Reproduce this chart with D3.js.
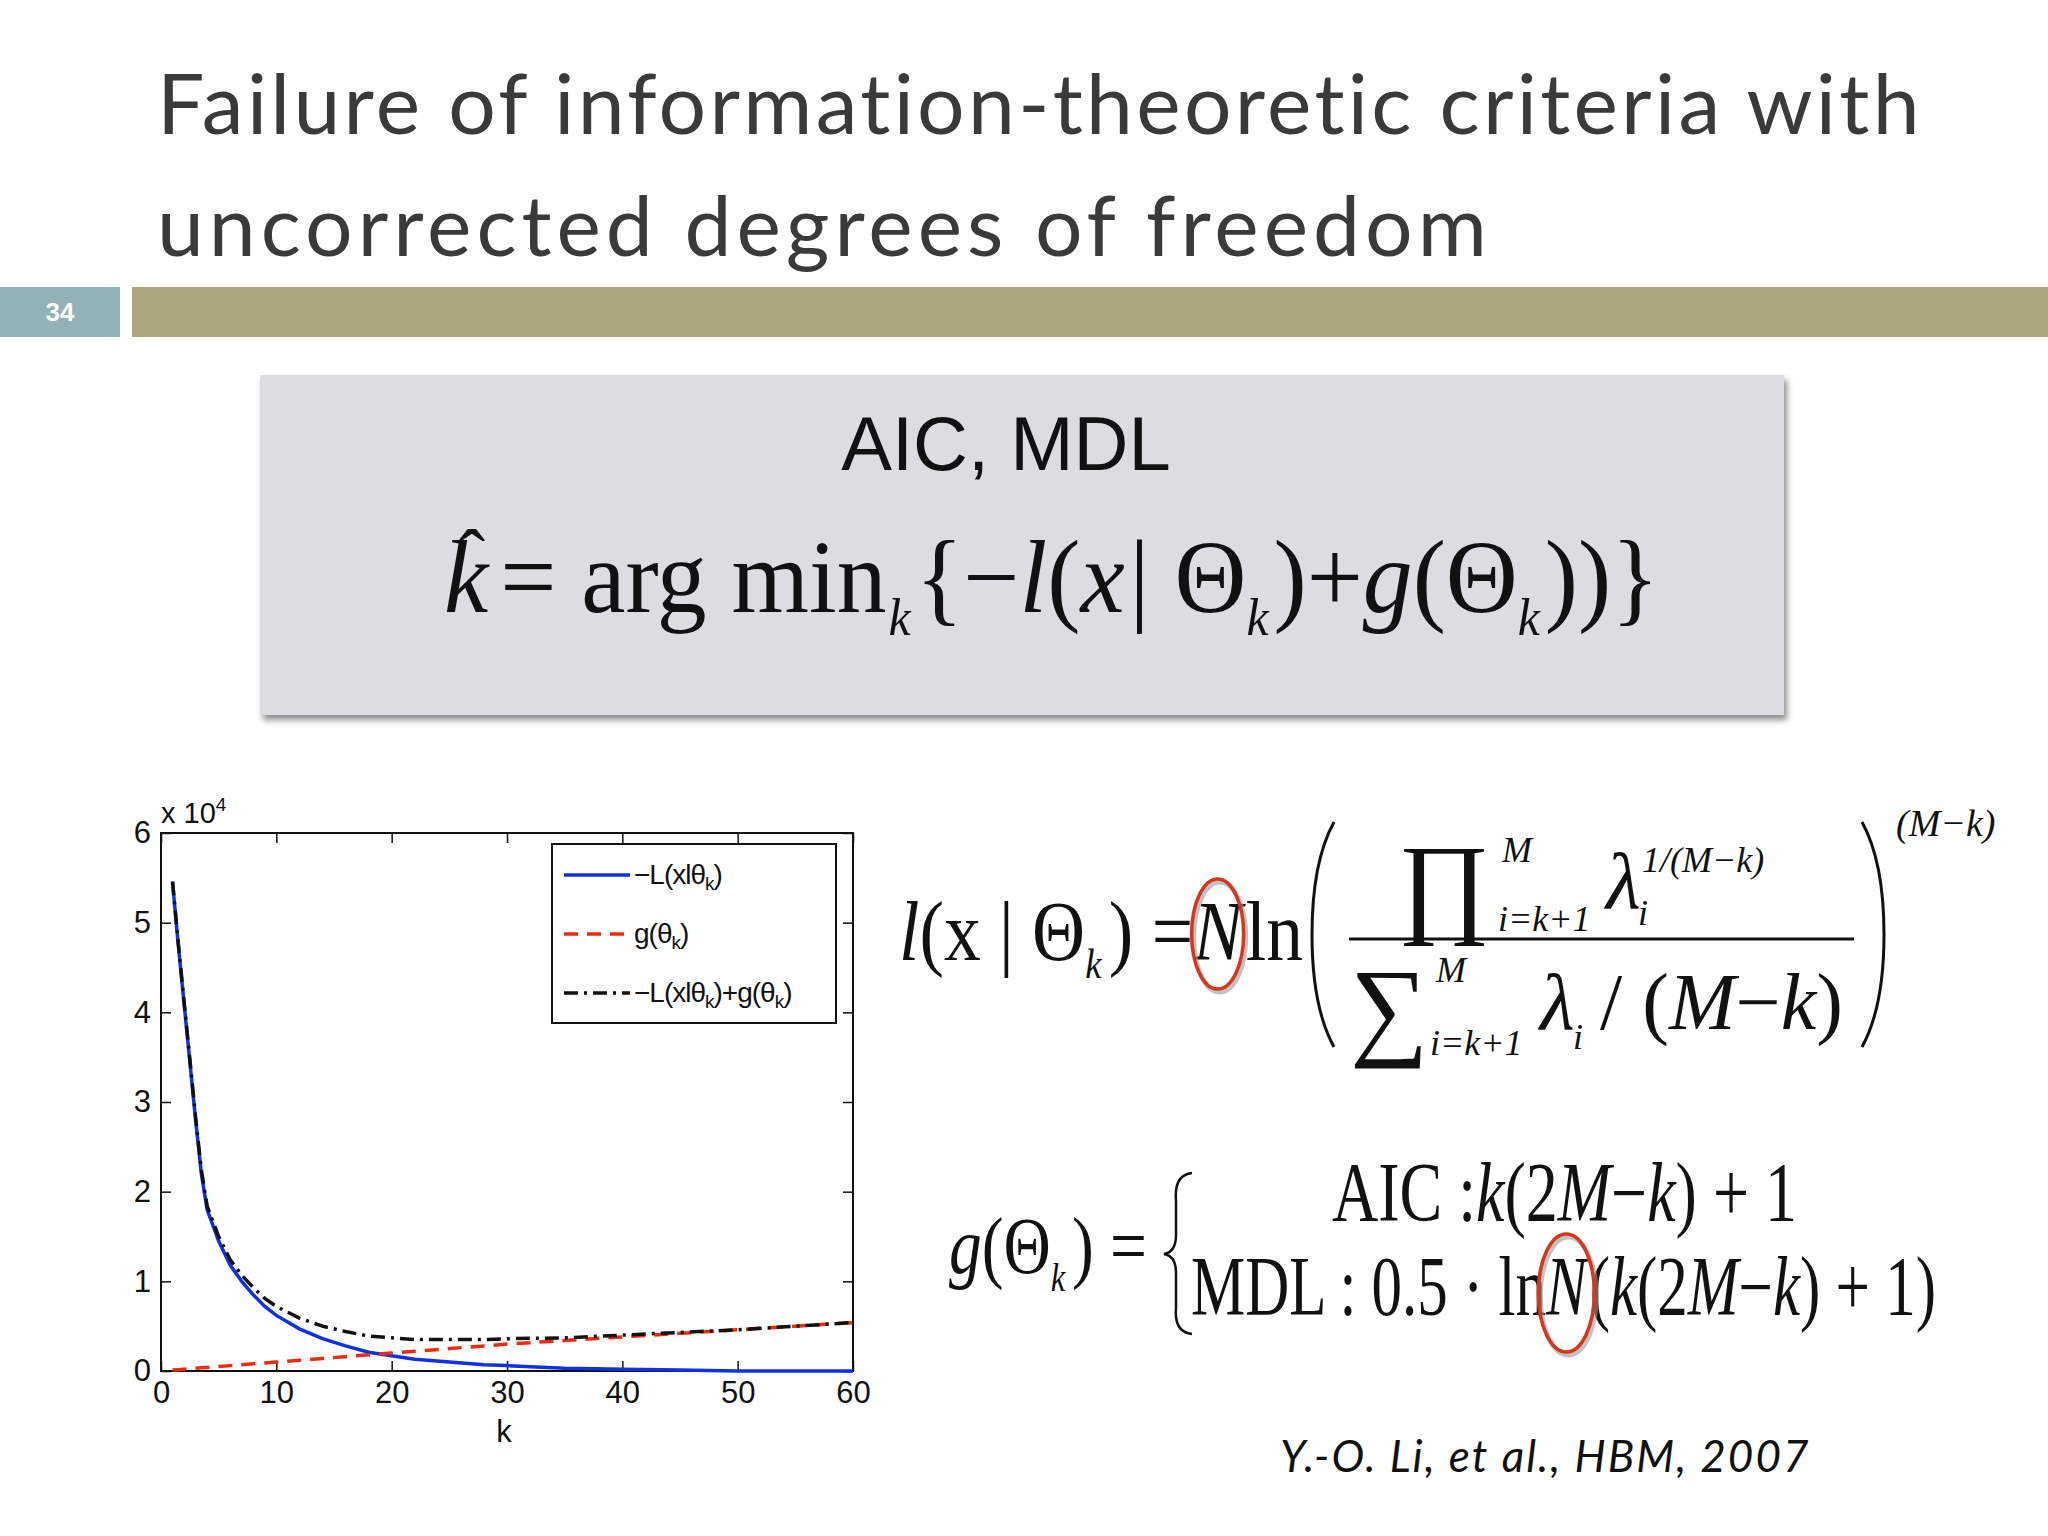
<!DOCTYPE html>
<html><head><meta charset="utf-8">
<script src="https://cdn.jsdelivr.net/npm/d3@7"></script>
<style>body{margin:0;background:#fff}</style>
</head><body>
<script>
var ks    = [1,1.5,2,2.5,3,3.5,4,5,6,7,8,9,10,12,14,16,18,20,22,25,28,30,35,40,45,50,55,60];
var negL  = [5.45,4.75,4.1,3.45,2.8,2.2,1.8,1.45,1.18,1.0,0.85,0.72,0.62,0.47,0.36,0.28,0.21,0.17,0.13,0.1,0.07,0.06,0.03,0.02,0.01,0,0,0];
var gVals = [0.01,0.015,0.02,0.025,0.03,0.035,0.04,0.05,0.06,0.07,0.08,0.09,0.1,0.12,0.14,0.16,0.18,0.2,0.22,0.25,0.28,0.3,0.34,0.38,0.42,0.46,0.5,0.54];
var total = [5.46,4.77,4.12,3.48,2.83,2.24,1.84,1.5,1.24,1.07,0.93,0.81,0.72,0.59,0.5,0.44,0.39,0.37,0.35,0.35,0.35,0.36,0.37,0.4,0.43,0.46,0.5,0.54];
var xTicks = [0,10,20,30,40,50,60];
var yTicks = [0,1,2,3,4,5,6];

var svg = d3.select("body").append("svg").attr("width",2048).attr("height",1536);
var defs = svg.append("defs");
var f = defs.append("filter").attr("id","sh").attr("x","-5%").attr("y","-5%").attr("width","112%").attr("height","115%");
f.append("feDropShadow").attr("dx",3).attr("dy",5).attr("stdDeviation",3).attr("flood-color","#000").attr("flood-opacity",0.45);

// title
var TF = "Lato, 'Noto Sans', sans-serif";
svg.append("text").attr("x",157).attr("y",134).attr("font-family",TF).attr("font-size",84)
  .attr("letter-spacing",3.3).attr("fill","#3a3a3a").text("Failure of information-theoretic criteria with");
svg.append("text").attr("x",157).attr("y",256).attr("font-family",TF).attr("font-size",84)
  .attr("letter-spacing",5).attr("fill","#3a3a3a").text("uncorrected degrees of freedom");
svg.append("rect").attr("x",0).attr("y",287).attr("width",120).attr("height",50).attr("fill","#92b2b6");
svg.append("text").attr("x",60).attr("y",321).attr("text-anchor","middle").attr("font-family","'Liberation Sans',Arial")
  .attr("font-weight","bold").attr("font-size",26).attr("fill","#fff").text("34");
svg.append("rect").attr("x",132).attr("y",287).attr("width",1916).attr("height",50).attr("fill","#aba57d");

// box
svg.append("rect").attr("x",260).attr("y",375).attr("width",1524).attr("height",340).attr("fill","#dddce1").attr("filter","url(#sh)");
svg.append("text").attr("x",1006).attr("y",470).attr("text-anchor","middle").attr("font-family","'Liberation Sans',Arial")
  .attr("font-size",76).attr("fill","#111").text("AIC, MDL");

var SF = "'Liberation Serif','Times New Roman',serif";
// lay out a run of segments; returns bbox info keyed by seg.id
function run(x, y, fs, segs, target) {
  var g = svg.append("g"), cx = 0, marks = {};
  segs.forEach(function(s) {
    var sz = fs * (s.sc || 1), dy = (s.dy || 0) * fs;
    var t = g.append("text").attr("x",cx).attr("y",dy).attr("font-family",SF).attr("font-size",sz)
      .attr("font-style", s.i ? "italic" : "normal").attr("fill","#111").text(s.t);
    var w = t.node().getComputedTextLength();
    if (s.id) marks[s.id] = {x:cx, w:w, dy:dy, sz:sz};
    cx += w + (s.gap || 0) * fs;
  });
  var k = target ? target / cx : 1;
  g.attr("transform","translate("+x+","+y+") scale("+k+",1)");
  return {k:k, marks:marks, w:cx*k};
}
var sub = {sc:0.5, dy:0.22, i:true};
function S(o){ return Object.assign({}, sub, o); }

// main formula
var m = run(444, 612, 104, [
  {t:"k", i:true, id:"khat", gap:0.12}, {t:"= arg min", gap:0.02}, S({t:"k", gap:0.05}),
  {t:"{−"}, {t:"l", i:true}, {t:"("}, {t:"x", i:true, gap:0.05}, {t:"| Θ"}, S({t:"k", gap:0.05}),
  {t:")+"}, {t:"g", i:true}, {t:"(Θ"}, S({t:"k", gap:0.05}), {t:"))}"}
], 1215);
var kh = m.marks.khat;
svg.append("text").attr("x",444 + (kh.x + kh.w/2 + 6)*m.k).attr("y",585).attr("text-anchor","middle")
  .attr("font-family",SF).attr("font-size",80).attr("fill","#111").text("ˆ");

// formula l(x|Θ)
var f1 = run(899, 960, 84, [
  {t:"l", i:true}, {t:"(x | Θ"}, S({t:"k", gap:0.1}), {t:") = "}, {t:"N", i:true, id:"N", gap:0.05}, {t:"ln"}
], 404);
var nm = f1.marks.N;
function ring(cx, cy, rx, ry) {
  svg.append("ellipse").attr("cx",cx+2).attr("cy",cy+3).attr("rx",rx).attr("ry",ry).attr("fill","none")
    .attr("stroke","#999").attr("stroke-width",5).attr("opacity",0.6);
  svg.append("ellipse").attr("cx",cx).attr("cy",cy).attr("rx",rx).attr("ry",ry).attr("fill","none")
    .attr("stroke","#d8361c").attr("stroke-width",3.5);
}
ring(899 + (nm.x + nm.w/2)*f1.k, 934, 26, 55);
function paren(x0, y0, y1, dir) {
  var b = x0 + dir*22;
  svg.append("path").attr("d","M"+b+","+y0+" Q"+x0+","+(y0+40)+" "+x0+","+((y0+y1)/2)+" Q"+x0+","+(y1-40)+" "+b+","+y1)
    .attr("fill","none").attr("stroke","#111").attr("stroke-width",3);
}
paren(1312, 822, 1047, 1);
paren(1884, 822, 1047, -1);
svg.append("line").attr("x1",1349).attr("x2",1854).attr("y1",939).attr("y2",939).attr("stroke","#111").attr("stroke-width",3);
function txt(x, y, s, fs, it, anchor) {
  svg.append("text").attr("x",x).attr("y",y).attr("font-family",SF).attr("font-size",fs)
    .attr("font-style", it ? "italic" : "normal").attr("text-anchor", anchor || "start").attr("fill","#111").text(s);
}
txt(1398, 922, "∏", 112);
txt(1502, 862, "M", 36, true);
txt(1498, 931, "i=k+1", 36, true);
txt(1606, 908, "λ", 80, true);
txt(1642, 872, "1/(M−k)", 36, true);
txt(1638, 925, "i", 36, true);
txt(1350, 1045, "∑", 110);
txt(1436, 982, "M", 36, true);
txt(1430, 1055, "i=k+1", 36, true);
txt(1540, 1029, "λ", 80, true);
txt(1573, 1049, "i", 36, true);
run(1600, 1029, 80, [{t:"/ ("}, {t:"M", i:true}, {t:" − "}, {t:"k", i:true}, {t:")"}]);
txt(1896, 836, "(M−k)", 38, true);

// formula g(Θ)
run(949, 1273, 80, [{t:"g", i:true}, {t:"(Θ"}, S({t:"k", gap:0.1}), {t:") ="}], 198);
svg.append("path").attr("d","M1192,1173 Q1174,1175 1176,1200 L1176,1235 Q1176,1252 1164,1254 Q1176,1256 1176,1273 L1176,1308 Q1174,1332 1192,1334")
  .attr("fill","none").attr("stroke","#111").attr("stroke-width",2.5);
run(1332, 1221, 84, [{t:"AIC : "}, {t:"k", i:true}, {t:"(2"}, {t:"M", i:true}, {t:" − "}, {t:"k", i:true}, {t:") + 1"}], 465);
var f3 = run(1191, 1315, 84, [{t:"MDL : 0.5 · ln "}, {t:"N", i:true, id:"N", gap:0.05}, {t:"("}, {t:"k", i:true}, {t:"(2"},
  {t:"M", i:true}, {t:" − "}, {t:"k", i:true}, {t:") + 1)"}], 745);
var n3 = f3.marks.N;
ring(1191 + (n3.x + n3.w/2)*f3.k, 1293, 28, 59);

svg.append("text").attr("x",1280).attr("y",1472).attr("font-family",TF).attr("font-style","italic")
  .attr("font-size",44).attr("letter-spacing",2).attr("fill","#111").text("Y.-O. Li, et al., HBM, 2007");

// chart
var L = 161, R = 853, T = 833, B = 1371;
var x = d3.scaleLinear().domain([0,60]).range([L,R]);
var y = d3.scaleLinear().domain([0,6]).range([B,T]);
var AF = "'Liberation Sans',Arial,sans-serif";
function ax(a, tr, lab) {
  var g = svg.append("g").attr("transform",tr).call(a.tickSizeInner(-10).tickSizeOuter(0).tickPadding(10).tickFormat(d3.format("d")));
  g.selectAll("text").attr("font-family",AF).attr("font-size",31).attr("fill","#111");
  if (!lab) g.selectAll("text").remove();
  g.select(".domain").remove();
  g.selectAll("line").attr("stroke","#111").attr("stroke-width",1.5);
}
ax(d3.axisBottom(x).tickValues(xTicks), "translate(0,"+B+")", true);
ax(d3.axisTop(x).tickValues(xTicks), "translate(0,"+T+")", false);
ax(d3.axisLeft(y).tickValues(yTicks), "translate("+L+",0)", true);
ax(d3.axisRight(y).tickValues(yTicks), "translate("+R+",0)", false);
svg.append("rect").attr("x",L).attr("y",T).attr("width",R-L).attr("height",B-T).attr("fill","none").attr("stroke","#111").attr("stroke-width",2);
var xt = svg.append("text").attr("x",161).attr("y",823).attr("font-family",AF).attr("font-size",29).attr("fill","#111").text("x 10");
xt.append("tspan").attr("dy",-12).attr("font-size",19).text("4");
svg.append("text").attr("x",504).attr("y",1442).attr("text-anchor","middle").attr("font-family",AF).attr("font-size",31).attr("fill","#111").text("k");

var series = [
  {v:negL, c:"#1030e8", d:null},
  {v:gVals, c:"#ee2a10", d:"14,9"},
  {v:total, c:"#111", d:"14,6,3,6"}
];
var line = d3.line().x(function(d){return x(d[0]);}).y(function(d){return y(d[1]);});
series.forEach(function(s) {
  svg.append("path").datum(ks.map(function(k,i){return [k, s.v[i]];})).attr("d",line)
    .attr("fill","none").attr("stroke",s.c).attr("stroke-width",3.5).attr("stroke-dasharray",s.d);
});

// legend
svg.append("rect").attr("x",552).attr("y",844).attr("width",284).attr("height",179).attr("fill","#fff").attr("stroke","#111").attr("stroke-width",2);
var labs = [
  [["−L(xlθ",0],["k",1],[")",0]],
  [["g(θ",0],["k",1],[")",0]],
  [["−L(xlθ",0],["k",1],[")+g(θ",0],["k",1],[")",0]]
];
labs.forEach(function(parts, i) {
  var yy = 875 + i*59;
  svg.append("line").attr("x1",564).attr("x2",630).attr("y1",yy).attr("y2",yy).attr("stroke",series[i].c)
    .attr("stroke-width",3.5).attr("stroke-dasharray",series[i].d);
  var t = svg.append("text").attr("x",634).attr("y",yy+9).attr("font-family",AF).attr("font-size",28).attr("fill","#111").attr("letter-spacing",-1);
  parts.forEach(function(p) {
    t.append("tspan").attr("font-size", p[1] ? 19 : 28).attr("baseline-shift", p[1] ? "-30%" : "0%").text(p[0]);
  });
});
</script>
</body></html>
